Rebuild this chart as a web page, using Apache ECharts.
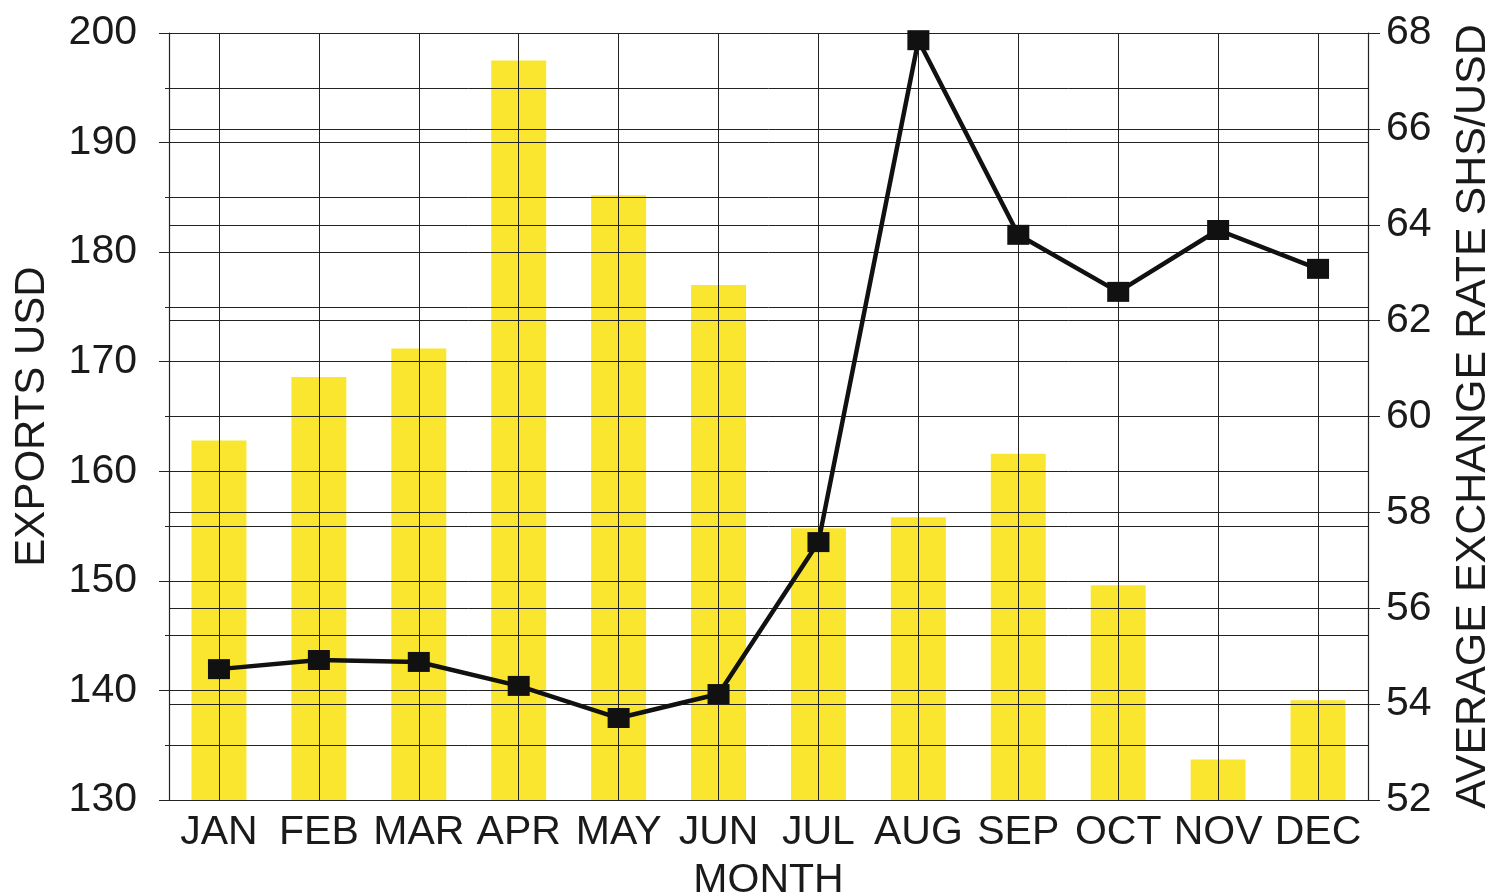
<!DOCTYPE html>
<html>
<head>
<meta charset="utf-8">
<script src="https://cdn.jsdelivr.net/npm/echarts@6/dist/echarts.min.js"></script>
<style>
  html, body { margin: 0; padding: 0; background: #fff; }
  #chart { width: 1495px; height: 893px; }
</style>
</head>
<body>
<div id="chart"></div>
<script>
  // months
  const months = ['JAN', 'FEB', 'MAR', 'APR', 'MAY', 'JUN', 'JUL', 'AUG', 'SEP', 'OCT', 'NOV', 'DEC']
  // exports in USD (bars, left axis)
  const exportsUsd = [162.8, 168.6, 171.2, 197.5, 185.2, 177.0, 154.8, 155.8, 161.6, 149.6, 133.7, 139.1]
  // average exchange rate shs/usd (line, right axis)
  const exchangeRate = [54.73, 54.92, 54.88, 54.38, 53.71, 54.21, 57.38, 67.85, 63.79, 62.6, 63.89, 63.08]

  const font = 'Liberation Sans, Arial, sans-serif'
  const ink = '#1a1a1a'
  const gridInk = '#222'

  const myChart = echarts.init(document.getElementById('chart'))
  const option = {
    backgroundColor: '#ffffff',
    animation: false,
    grid: {
      left: 169,
      right: 127,
      top: 33,
      bottom: 93,
      containLabel: false,
      outerBoundsMode: 'none'
    },
    xAxis: {
      type: 'category',
      data: months,
      z: 3,
      name: 'MONTH',
      nameLocation: 'middle',
      nameGap: 60,
      nameTextStyle: { fontFamily: font, fontSize: 41, color: ink },
      axisLine: { lineStyle: { color: gridInk, width: 1.2 } },
      axisTick: { alignWithLabel: true, length: 15, lineStyle: { color: gridInk } },
      axisLabel: { fontFamily: font, fontSize: 41, color: ink, margin: 12, interval: 0 },
      splitLine: { show: true, alignWithLabel: true, lineStyle: { color: gridInk, width: 1 } }
    },
    yAxis: [
      {
        type: 'value',
        min: 130,
        max: 200,
        interval: 10,
        z: 3,
        name: 'EXPORTS USD',
        nameLocation: 'middle',
        nameRotate: 90,
        nameGap: 116,
        nameTextStyle: { fontFamily: font, fontSize: 42, color: ink },
        axisLine: { show: true, lineStyle: { color: gridInk, width: 1.2 } },
        axisTick: { show: true, length: 10, lineStyle: { color: gridInk } },
        minorTick: { show: true, splitNumber: 2, length: 4, lineStyle: { color: gridInk } },
        axisLabel: { fontFamily: font, fontSize: 41, color: ink, margin: 32 },
        splitLine: { show: true, lineStyle: { color: gridInk, width: 1 } },
        minorSplitLine: { show: true, lineStyle: { color: gridInk, width: 1 } }
      },
      {
        type: 'value',
        min: 52,
        max: 68,
        interval: 2,
        z: 3,
        position: 'right',
        name: 'AVERAGE EXCHANGE RATE SHS/USD',
        nameLocation: 'middle',
        nameRotate: 90,
        nameGap: 84,
        nameTextStyle: { fontFamily: font, fontSize: 43, color: ink },
        axisLine: { show: true, lineStyle: { color: gridInk, width: 1.2 } },
        axisTick: { show: true, length: 12, lineStyle: { color: gridInk } },
        axisLabel: { fontFamily: font, fontSize: 41, color: ink, margin: 18 },
        splitLine: { show: true, lineStyle: { color: gridInk, width: 1 } }
      }
    ],
    series: [
      {
        name: 'EXPORTS USD',
        type: 'bar',
        yAxisIndex: 0,
        z: 1,
        barWidth: '55%',
        itemStyle: { color: '#fae62e' },
        data: exportsUsd
      },
      {
        name: 'AVERAGE EXCHANGE RATE SHS/USD',
        type: 'line',
        yAxisIndex: 1,
        z: 5,
        symbol: 'rect',
        symbolSize: [22, 20],
        lineStyle: { color: '#111', width: 4.5 },
        itemStyle: { color: '#111' },
        data: exchangeRate
      }
    ]
  }
  myChart.setOption(option)
</script>
</body>
</html>
